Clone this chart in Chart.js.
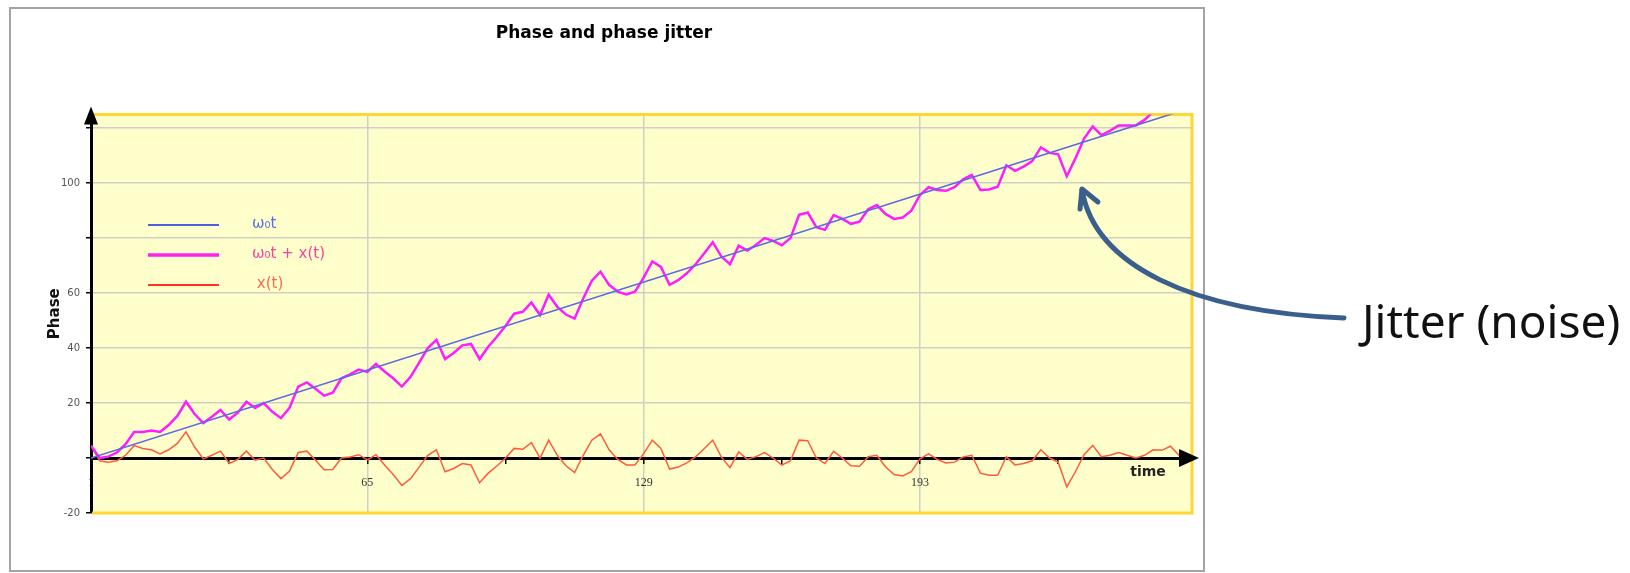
<!DOCTYPE html>
<html>
<head>
<meta charset="utf-8">
<title>Phase and phase jitter</title>
<script src="https://cdn.jsdelivr.net/npm/chart.js@4.4.1/dist/chart.umd.min.js"></script>
<style>
  html, body { margin: 0; padding: 0; background: #fff; }
  #wrap { position: relative; width: 1630px; height: 573px; }
</style>
</head>
<body>
<div id="wrap"><canvas id="phaseChart" width="1630" height="573"></canvas></div>
<script>
// samples are taken every 2nd time step, starting at t = 1
const firstSample = 1;
const sampleStep = 2;

// x(t) - the jitter
const jitter = [
  4.5, -1, -1.5, -1, 1, 4.5, 3.5, 3, 1.5, 3, 5.3, 9.5, 4, -0.3, 1, 2.5, -2, -0.5, 2.5, -0.8, 0, -4.2, -7.5, -4.7, 2, 2.5,
  -0.8, -4.3, -4.2, 0, 0.4, 1.2, -0.7, 1.2, -2.5, -6, -10, -7.5, -3.3, 1, 3, -5, -3.8, -2, -2.5, -9, -5.5, -2.9, 0, 3.5, 3.2, 5.6,
  0, 6.5, 1, -2.8, -5.3, 1, 6.5, 8.8, 3, -0.5, -2.5, -2.5, 1.6, 6.5, 3.5, -4, -3.3, -1.8, 0.4, 3.4, 6.5, 0.3, -3.5, 2.2, -0.5, 0.5, 2,
  0, -2.6, -1, 6.5, 6.3, 0, -2, 2.4, 0, -2.8, -3, 0.5, 1, -3.2, -6, -6.5, -5, -0.3, 1.5, -0.5, -1.8, -1.5, 0.4, 1, -5.5,
  -6.3, -6.3, 0.5, -2.5, -2, -1, 3, 0, -1.5, -10.5, -5, 1.2, 4.6, 0.5, 1, 2, 1, 0, 1, 3, 2.8, 4.3, 1, 0
];

// w0t + x(t)
const phaseWithJitter = [
  4.5, 0, 0.5, 2, 5, 9.5, 9.5, 10, 9.5, 12, 15.3, 20.5, 16, 12.7, 15, 17.5, 14, 16.5, 20.5, 18.2, 20, 16.8, 14.5, 18.3, 26, 27.5,
  25.2, 22.7, 23.8, 29, 30.4, 32.2, 31.3, 34.2, 31.5, 29, 26, 29.5, 34.7, 40, 43, 36, 38.2, 41, 41.5, 36, 40.5, 44.1, 48, 52.5, 53.2, 56.6,
  52, 59.5, 55, 52.2, 50.7, 58, 64.5, 67.8, 63, 60.5, 59.5, 60.5, 65.6, 71.5, 69.5, 63, 64.7, 67.2, 70.4, 74.4, 78.5, 73.3, 70.5, 77.2, 75.5, 77.5, 80,
  79, 77.4, 80, 88.5, 89.3, 84, 83, 88.4, 87, 85.2, 86, 90.5, 92, 88.8, 87, 87.5, 90, 95.7, 98.5, 97.5, 97.2, 98.5, 101.4, 103, 97.5,
  97.7, 98.7, 106.5, 104.5, 106, 108, 113, 111, 110.5, 102.5, 109, 116.2, 120.6, 117.5, 119, 121, 121, 121, 123, 126, 126.8, 129.3, 127, 127
];

// w0t - the ideal phase, a straight line
const idealTimes = [1, 256];
const idealPhase = [0, 127.5];

const xTicks = [1, 33, 65, 97, 129, 161, 193, 225];
const xLabels = [1, 65, 129, 193];
const xGridAt = [65, 129, 193];
const yTicks = [-20, 0, 20, 40, 60, 80, 100, 120];
const yLabels = [-20, 20, 40, 60, 100];

const legendItems = [
  { text: "ω₀t", line: "#4f5fe0", color: "#5b6ee6", width: 2 },
  { text: "ω₀t + x(t)", line: "#ff22ee", color: "#ff3fa0", width: 3.5 },
  { text: " x(t)", line: "#ff3322", color: "#ff6a4a", width: 2 }
];

const toPoints = (vals) => vals.map((v, i) => ({ x: firstSample + sampleStep * i, y: v }));

// background, frame, axis arrows, legend and the annotation
const decor = {
  id: "decor",
  beforeDraw(chart) {
    const { ctx, chartArea: a } = chart;
    ctx.save();
    ctx.fillStyle = "#fff";
    ctx.fillRect(0, 0, chart.width, chart.height);
    ctx.strokeStyle = "#a3a3a3";
    ctx.lineWidth = 2;
    ctx.strokeRect(10, 8, 1194, 563);
    ctx.fillStyle = "#ffffcc";
    ctx.fillRect(a.left, a.top, a.right - a.left, a.bottom - a.top);
    ctx.restore();
  },
  beforeDatasetsDraw(chart) {
    const { ctx, chartArea: a } = chart;
    ctx.save();
    ctx.strokeStyle = "#ffd633";
    ctx.lineWidth = 3;
    ctx.beginPath();
    ctx.moveTo(a.left, a.top);
    ctx.lineTo(a.right, a.top);
    ctx.lineTo(a.right, a.bottom);
    ctx.lineTo(a.left + 1, a.bottom);
    ctx.stroke();
    ctx.restore();
  },
  afterDraw(chart) {
    const { ctx, chartArea: a } = chart;
    const y0 = chart.scales.y.getPixelForValue(0);
    ctx.save();

    // arrow heads on the axes
    ctx.fillStyle = "#000";
    ctx.beginPath();
    ctx.moveTo(a.left, a.top - 8);
    ctx.lineTo(a.left - 7, a.top + 10);
    ctx.lineTo(a.left + 7, a.top + 10);
    ctx.closePath();
    ctx.fill();
    ctx.beginPath();
    ctx.moveTo(a.right + 7, y0);
    ctx.lineTo(a.right - 13, y0 - 9);
    ctx.lineTo(a.right - 13, y0 + 9);
    ctx.closePath();
    ctx.fill();

    ctx.font = "bold 14px 'DejaVu Sans'";
    ctx.textAlign = "center";
    ctx.textBaseline = "middle";
    ctx.fillStyle = "#222";
    ctx.fillText("time", a.right - 44, y0 + 14);

    // legend
    ctx.font = "15px 'DejaVu Sans'";
    ctx.textAlign = "left";
    legendItems.forEach((it, i) => {
      const ly = 225 + i * 30;
      ctx.strokeStyle = it.line;
      ctx.lineWidth = it.width;
      ctx.beginPath();
      ctx.moveTo(148, ly);
      ctx.lineTo(219, ly);
      ctx.stroke();
      ctx.fillStyle = it.color;
      ctx.fillText(it.text, 252, ly - 1);
    });

    // "Jitter (noise)" call-out with curved arrow
    ctx.fillStyle = "#111";
    ctx.font = "46px 'Noto Sans'";
    ctx.textBaseline = "alphabetic";
    ctx.fillText("Jitter (noise)", 1362, 338);

    ctx.strokeStyle = "#3b5f8c";
    ctx.lineWidth = 5;
    ctx.lineCap = "round";
    ctx.lineJoin = "round";
    ctx.beginPath();
    ctx.moveTo(1344, 318);
    ctx.bezierCurveTo(1190, 312, 1095, 265, 1082, 190);
    ctx.stroke();
    ctx.beginPath();
    ctx.moveTo(1080, 209);
    ctx.lineTo(1082, 189);
    ctx.lineTo(1098, 202);
    ctx.stroke();

    ctx.restore();
  }
};

new Chart(document.getElementById("phaseChart"), {
  type: "line",
  data: {
    datasets: [
      {
        label: "ω₀t",
        data: idealTimes.map((t, i) => ({ x: t, y: idealPhase[i] })),
        borderColor: "#5a6ce0",
        borderWidth: 1.6,
        pointRadius: 0
      },
      {
        label: "ω₀t + x(t)",
        data: toPoints(phaseWithJitter),
        borderColor: "#ff1cff",
        borderWidth: 2.5,
        pointRadius: 0
      },
      {
        label: "x(t)",
        data: toPoints(jitter),
        borderColor: "#ff5a3c",
        borderWidth: 1.5,
        pointRadius: 0
      }
    ]
  },
  options: {
    responsive: false,
    animation: false,
    devicePixelRatio: 1,
    layout: { padding: { left: 16, right: 438, top: 0, bottom: 60 } },
    plugins: {
      legend: { display: false },
      tooltip: { enabled: false },
      title: {
        display: true,
        text: "Phase and phase jitter",
        color: "#000",
        font: { family: "'DejaVu Sans'", size: 17, weight: "bold" },
        padding: { top: 23, bottom: 71 }
      }
    },
    scales: {
      x: {
        type: "linear",
        min: 1,
        max: 256,
        position: { y: 0 },
        afterFit: (s) => { s.height = 0; },
        afterBuildTicks: (s) => { s.ticks = xTicks.map((v) => ({ value: v })); },
        grid: {
          color: (c) => (c.tick && xGridAt.includes(c.tick.value) ? "#cfcfc6" : "rgba(0,0,0,0)"),
          lineWidth: 1.5,
          tickColor: "#000",
          tickLength: 4
        },
        border: { color: "#000", width: 3 },
        ticks: {
          color: "#333",
          padding: 14,
          maxRotation: 0,
          autoSkip: false,
          font: { family: "'Liberation Serif'", size: 12 },
          callback: (v) => (xLabels.includes(v) ? String(v) : "")
        }
      },
      y: {
        type: "linear",
        min: -20,
        max: 125,
        position: "left",
        afterFit: (s) => { s.width = 75; },
        afterBuildTicks: (s) => { s.ticks = yTicks.map((v) => ({ value: v })); },
        grid: { color: "#cfcfc6", lineWidth: 1.5, tickColor: "#000", tickLength: 5 },
        border: { color: "#000", width: 3 },
        ticks: {
          color: "#555",
          padding: 6,
          autoSkip: false,
          font: { family: "'DejaVu Sans'", size: 10 },
          callback: (v) => (yLabels.includes(v) ? String(v) : "")
        },
        title: {
          display: true,
          text: "Phase",
          color: "#111",
          font: { family: "'DejaVu Sans'", size: 15, weight: "bold" },
          padding: { top: 30, bottom: 0 }
        }
      }
    }
  },
  plugins: [decor]
});
</script>
</body>
</html>
